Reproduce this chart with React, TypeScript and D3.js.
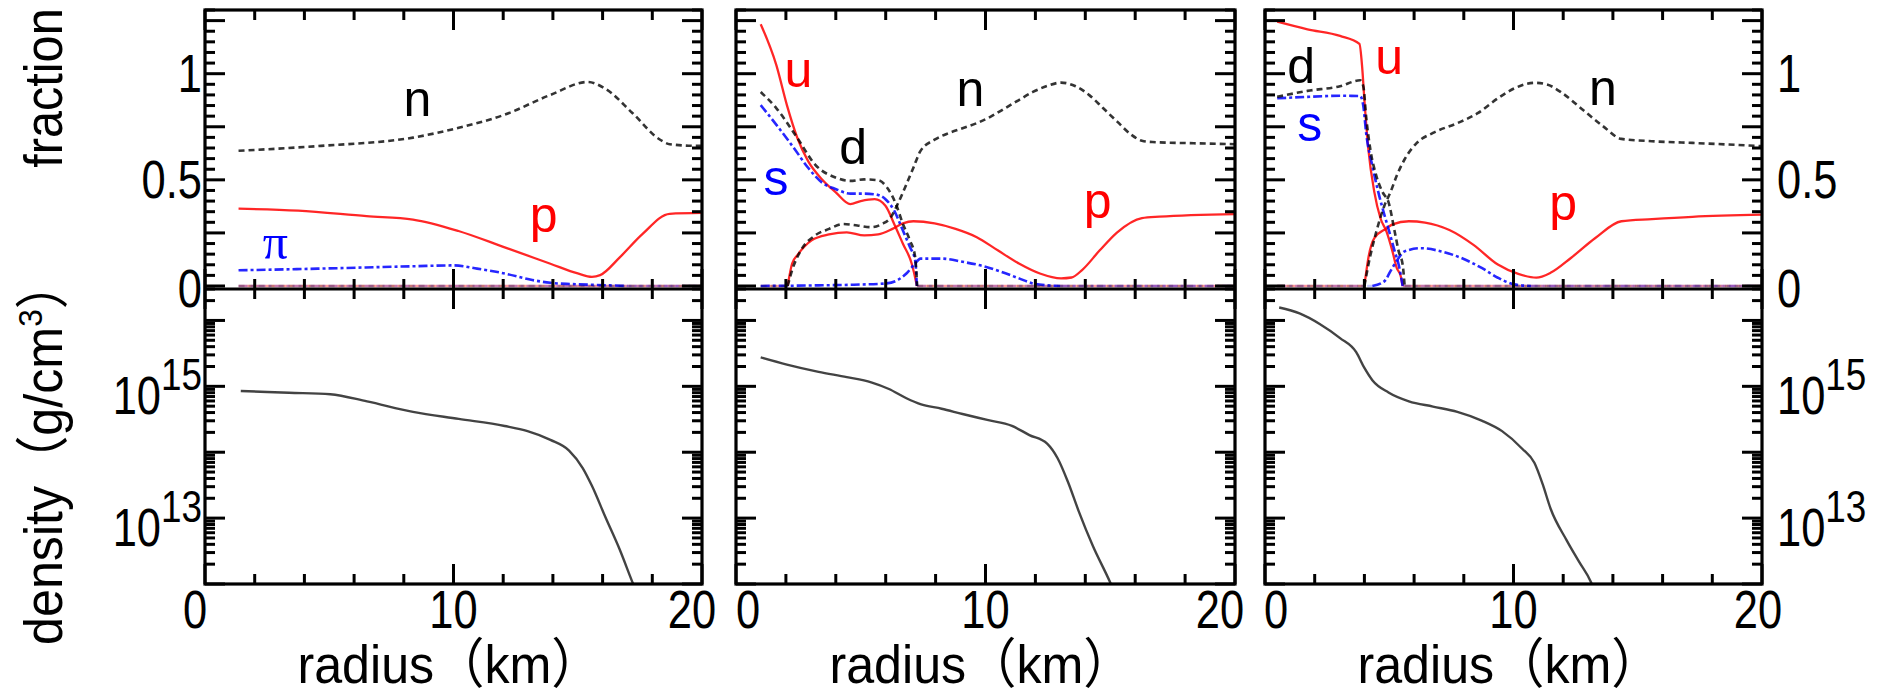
import React from "react";
import * as d3 from "d3";

type Pt = [number, number];

// ---------- axes ----------
const X_DOMAIN: [number, number] = [0, 20];
const FRAC_DOMAIN: [number, number] = [0, 1.3];
const DENS_DOMAIN: [number, number] = [1e12, 3e16];
const xMajorTicks = [0, 10, 20];
const xMinorTicks = [2, 4, 6, 8, 12, 14, 16, 18];
const xTickLabels = ["0", "10", "20"];
const fracLabelValues = [0, 0.5, 1];
const fracLabelTexts = ["0", "0.5", "1"];
const densLabelExponents = [15, 13];

// ---------- panel 1 ----------
const p1N: Pt[] = [[1.35,0.637],[4.67,0.66],[8.37,0.699],[10.21,0.745],[12.06,0.807],[13.9,0.9],[15.4,0.961],[16.1,0.93],[17.2,0.815],[18.3,0.69],[18.7,0.668],[19.8,0.66],[20,0.66]];
const p1P: Pt[] = [[1.35,0.364],[3.75,0.355],[6.5,0.329],[8.37,0.313],[10.2,0.259],[12.06,0.182],[13.9,0.105],[15.0,0.059],[15.57,0.043],[15.9,0.051],[16.7,0.136],[17.6,0.244],[18.7,0.34],[20,0.344]];
const p1Pi: Pt[] = [[1.35,0.074],[4.67,0.082],[8.37,0.093],[10.0,0.097],[10.95,0.082],[12.06,0.059],[13.17,0.028],[13.9,0.015],[14.8,0.009],[16.3,0.003],[17,0],[20,0]];
const p1U: Pt[] = [[1.35,0],[20,0]];
const p1D: Pt[] = [[1.35,0],[20,0]];
const p1S: Pt[] = [[1.35,0],[20,0]];
const p1Dens: Pt[] = [[1.44,8.5e14],[3.38,8.0e14],[5.04,7.6e14],[6.52,5.9e14],[8.37,4.1e14],[10.21,3.2e14],[12.06,2.5e14],[12.98,2.09e14],[13.9,1.54e14],[14.65,1.06e14],[15.2,5.75e13],[15.57,3.09e13],[16.12,1.02e13],[16.68,3.39e12],[17.23,1.0e12],[17.4,7e11]];
const p1Labels = [
  { t: "n", x: 8.55, y: 0.86, c: "black" },
  { t: "p", x: 13.63, y: 0.29, c: "red" },
  { t: "π", x: 2.83, y: 0.19, c: "blue" },
];

// ---------- panel 2 ----------
const p2U: Pt[] = [[0.99,1.233],[1.62,1.039],[2.04,0.852],[2.46,0.697],[2.89,0.588],[3.45,0.502],[4.01,0.44],[4.58,0.386],[5.0,0.4],[5.56,0.409],[5.99,0.378],[6.34,0.292],[6.69,0.199],[7.04,0.106],[7.23,0.012],[7.25,0],[20,0]];
const p2D: Pt[] = [[0.99,0.914],[1.62,0.837],[2.46,0.697],[3.17,0.572],[4.01,0.51],[4.58,0.495],[5.14,0.502],[5.7,0.498],[6.06,0.463],[6.41,0.386],[6.69,0.292],[6.97,0.215],[7.18,0.137],[7.26,0],[20,0]];
const p2S: Pt[] = [[0.99,0.852],[1.62,0.759],[2.32,0.65],[2.89,0.557],[3.45,0.487],[4.01,0.456],[4.58,0.435],[5.14,0.435],[5.56,0.432],[5.99,0.409],[6.34,0.355],[6.69,0.261],[6.97,0.184],[7.18,0.121],[7.25,0],[20,0]];
const p2N: Pt[] = [[0.99,0],[2.07,0],[2.25,0.075],[2.6,0.168],[3.17,0.238],[3.73,0.269],[4.3,0.292],[4.86,0.285],[5.42,0.277],[5.85,0.292],[6.2,0.323],[6.48,0.386],[6.83,0.479],[7.11,0.557],[7.39,0.635],[7.96,0.689],[8.52,0.72],[9.08,0.743],[9.65,0.767],[10.21,0.798],[10.78,0.837],[11.34,0.876],[11.9,0.914],[12.47,0.942],[13.03,0.958],[13.59,0.942],[14.16,0.899],[14.72,0.837],[15.28,0.774],[15.85,0.712],[16.27,0.684],[16.69,0.678],[18.1,0.673],[20,0.668]];
const p2P: Pt[] = [[0.99,0],[2.07,0],[2.25,0.106],[2.46,0.145],[3.03,0.215],[3.73,0.243],[4.44,0.253],[5.14,0.238],[5.7,0.243],[6.27,0.269],[6.69,0.295],[7.11,0.305],[7.96,0.295],[8.8,0.269],[9.65,0.23],[10.49,0.168],[11.34,0.106],[12.18,0.059],[13.03,0.036],[13.45,0.04],[13.87,0.075],[14.58,0.168],[15.28,0.253],[16.27,0.32],[16.97,0.327],[20,0.339]];
const p2Pi: Pt[] = [[0.99,0],[3.31,0.003],[4.72,0.006],[5.99,0.012],[6.48,0.028],[6.83,0.059],[7.18,0.106],[7.39,0.129],[8.24,0.129],[9.08,0.114],[9.93,0.093],[10.63,0.067],[11.34,0.036],[11.9,0.012],[12.47,0.003],[13,0],[20,0]];
const p2Dens: Pt[] = [[0.99,2.75e15],[2.04,2.14e15],[3.31,1.66e15],[4.44,1.38e15],[5.42,1.15e15],[6.13,9.1e14],[6.83,6.6e14],[7.39,5.37e14],[8.24,4.57e14],[9.08,3.8e14],[10.07,3.09e14],[11.06,2.51e14],[11.76,1.82e14],[12.47,1.35e14],[12.89,8.1e13],[13.31,3.5e13],[13.73,1.29e13],[14.3,3.8e12],[15.0,1.05e12],[15.2,7e11]];
const p2Labels = [
  { t: "u", x: 2.5, y: 1.0, c: "red" },
  { t: "d", x: 4.7, y: 0.66, c: "black" },
  { t: "s", x: 1.6, y: 0.49, c: "blue" },
  { t: "n", x: 9.4, y: 0.91, c: "black" },
  { t: "p", x: 14.5, y: 0.36, c: "red" },
];

// ---------- panel 3 ----------
const p3U: Pt[] = [[0.49,1.245],[1.71,1.209],[3.02,1.178],[3.8,1.14],[3.91,1.031],[4.0,0.876],[4.16,0.643],[4.4,0.442],[4.65,0.318],[4.89,0.256],[5.13,0.163],[5.3,0.085],[5.46,0.047],[5.54,0],[20,0]];
const p3D: Pt[] = [[0.49,0.891],[1.71,0.919],[3.02,0.941],[3.83,0.969],[3.96,0.938],[4.07,0.798],[4.24,0.643],[4.48,0.519],[4.73,0.442],[4.97,0.395],[5.22,0.256],[5.38,0.163],[5.54,0.1],[5.62,0],[20,0]];
const p3S: Pt[] = [[0.49,0.884],[1.71,0.891],[3.02,0.896],[3.83,0.895],[3.96,0.845],[4.07,0.721],[4.32,0.566],[4.56,0.442],[4.81,0.333],[5.0,0.256],[5.22,0.163],[5.38,0.1],[5.54,0],[20,0]];
const p3N: Pt[] = [[0.49,0],[4.0,0],[4.16,0.1],[4.48,0.256],[4.81,0.38],[5.05,0.442],[5.3,0.519],[5.62,0.597],[6.11,0.674],[6.76,0.721],[7.74,0.767],[8.56,0.814],[9.37,0.884],[10.02,0.93],[10.84,0.957],[11.33,0.95],[11.98,0.907],[12.8,0.829],[13.61,0.752],[14.34,0.693],[15.57,0.682],[17.2,0.674],[20,0.659]];
const p3P: Pt[] = [[0.49,0],[4.0,0],[4.16,0.132],[4.4,0.225],[4.89,0.271],[5.13,0.29],[5.79,0.305],[6.44,0.299],[7.42,0.264],[8.39,0.194],[9.37,0.101],[10.19,0.057],[10.92,0.039],[11.49,0.062],[12.31,0.132],[13.28,0.225],[14.34,0.305],[15.57,0.315],[17.2,0.326],[20,0.336]];
const p3Pi: Pt[] = [[0.49,0],[4.32,0],[4.81,0.023],[5.05,0.07],[5.33,0.124],[5.62,0.163],[6.28,0.178],[7.09,0.163],[7.9,0.132],[8.72,0.085],[9.37,0.039],[10.02,0.008],[10.7,0],[20,0]];
const p3Dens: Pt[] = [[0.57,1.57e16],[1.39,1.28e16],[2.2,8.85e15],[3.02,5.4e15],[3.67,3.3e15],[4.0,1.9e15],[4.32,1.24e15],[4.97,8.07e14],[5.79,5.93e14],[6.76,4.93e14],[7.74,4.1e14],[8.72,3.02e14],[9.54,2.09e14],[10.35,1.13e14],[10.84,6.9e13],[11.17,3.3e13],[11.49,1.4e13],[12.14,4.6e12],[12.63,2.2e12],[13.12,1.06e12],[13.3,7e11]];
const p3Labels = [
  { t: "d", x: 1.45, y: 1.04, c: "black" },
  { t: "u", x: 5.0, y: 1.06, c: "red" },
  { t: "s", x: 1.8, y: 0.745, c: "blue" },
  { t: "n", x: 13.6, y: 0.915, c: "black" },
  { t: "p", x: 12.0, y: 0.35, c: "red" },
];

// ---------- styling ----------
const COLORS: Record<string, string> = { red: "#ff0000", blue: "#0000ff", black: "#000000" };
const LINE_STYLE: Record<string, { width: number; dash?: string; opacity: number }> = {
  red: { width: 2.3, opacity: 0.85 },
  blue: { width: 2.6, dash: "9,3,3,3", opacity: 0.85 },
  black: { width: 2.6, dash: "6,4", opacity: 0.8 },
};
const FONT = "'Liberation Sans', Arial, Helvetica, 'Noto Sans CJK JP', sans-serif";
const GLYPH_CENTER: Record<string, number> = { n: 0.26, u: 0.26, s: 0.26, "π": 0.26, d: 0.36, p: 0.16 };
const TICK_FS = 53, TICK_SX = 0.82;
const TITLE_FS = 54, TITLE_SX = 0.93, FRACTION_SX = 0.9;
const LABEL_FS = 50;

const PANELS = [
  { x0: 205, x1: 702, series: [[p1U,"red"],[p1P,"red"],[p1S,"blue"],[p1Pi,"blue"],[p1D,"black"],[p1N,"black"]] as [Pt[], string][], dens: p1Dens, labels: p1Labels, xLabelShift: [-10, 0, -10] },
  { x0: 736, x1: 1235, series: [[p2U,"red"],[p2P,"red"],[p2S,"blue"],[p2Pi,"blue"],[p2D,"black"],[p2N,"black"]] as [Pt[], string][], dens: p2Dens, labels: p2Labels, xLabelShift: [12, 0, -15] },
  { x0: 1265, x1: 1762, series: [[p3U,"red"],[p3P,"red"],[p3S,"blue"],[p3Pi,"blue"],[p3D,"black"],[p3N,"black"]] as [Pt[], string][], dens: p3Dens, labels: p3Labels, xLabelShift: [11, 0, -4] },
];

const Y_TOP = 10, Y_MID = 289, Y_BOT = 584;
const MAJ = 20, MIN = 10;

function splitRuns(pts: Pt[]) {
  const strong: Pt[][] = [];
  const faint: Pt[][] = [];
  let cur: Pt[] | null = null;
  let curType = "";
  for (let i = 0; i < pts.length - 1; i++) {
    const a = pts[i], b = pts[i + 1];
    const t = a[1] === 0 && b[1] === 0 ? "F" : "S";
    if (t !== curType) {
      cur = [a];
      (t === "S" ? strong : faint).push(cur);
      curType = t;
    }
    cur!.push(b);
  }
  return { strong, faint };
}

function T(props: { x: number; y: number; sx?: number; rot?: number; anchor?: string; fs: number; fill?: string; family?: string; children: React.ReactNode }) {
  const { x, y, sx = 1, rot, anchor = "middle", fs, fill = "#000", family, children } = props;
  const tr = `translate(${x},${y})${rot ? ` rotate(${rot})` : ""} scale(${sx},1)`;
  return (
    <text transform={tr} textAnchor={anchor} fontSize={fs} fill={fill} fontFamily={family}>{children}</text>
  );
}

export default function App() {
  const fracY = d3.scaleLinear().domain(FRAC_DOMAIN).range([286, Y_TOP]);
  const densY = d3.scaleLog().domain(DENS_DOMAIN).range([Y_BOT, Y_MID]);

  const fracTicks = d3.range(0, 1.3001, 0.05).map((v) => ({ v, major: Math.abs(v / 0.25 - Math.round(v / 0.25)) < 1e-6 }));
  const densTicks: { v: number; major: boolean }[] = [];
  for (let e = 11; e <= 16; e++) for (let m = 1; m <= 9; m++) {
    const v = m * Math.pow(10, e);
    if (v >= DENS_DOMAIN[0] * 0.999 && v <= DENS_DOMAIN[1] * 1.001) densTicks.push({ v, major: m === 1 });
  }

  return (
    <svg width={1889} height={695} style={{ position: "absolute", left: 0, top: 0, background: "#fff" }} fontFamily={FONT}>
      <defs>
        {PANELS.map((p, i) => (
          <g key={i}>
            <clipPath id={`ct${i}`}><rect x={p.x0} y={Y_TOP} width={p.x1 - p.x0} height={Y_MID - Y_TOP} /></clipPath>
            <clipPath id={`cb${i}`}><rect x={p.x0} y={Y_MID} width={p.x1 - p.x0} height={Y_BOT - Y_MID} /></clipPath>
          </g>
        ))}
      </defs>
      {PANELS.map((p, pi) => {
        const xs = d3.scaleLinear().domain(X_DOMAIN).range([p.x0, p.x1]);
        const fracLine = d3.line<Pt>().x((d) => xs(d[0])).y((d) => fracY(d[1])).curve(d3.curveMonotoneX);
        const densLine = d3.line<Pt>().x((d) => xs(d[0])).y((d) => densY(d[1])).curve(d3.curveMonotoneX);
        const ticks: JSX.Element[] = [];
        const allX = [...xMajorTicks.map((v) => ({ v, major: true })), ...xMinorTicks.map((v) => ({ v, major: false }))];
        allX.forEach(({ v, major }, k) => {
          const x = xs(v);
          const L = major ? MAJ : MIN;
          ticks.push(<line key={`xt${k}`} x1={x} x2={x} y1={Y_TOP} y2={Y_TOP + L} />);
          ticks.push(<line key={`xm${k}`} x1={x} x2={x} y1={Y_MID - L} y2={Y_MID + L} />);
          ticks.push(<line key={`xb${k}`} x1={x} x2={x} y1={Y_BOT - L} y2={Y_BOT} />);
        });
        fracTicks.forEach(({ v, major }, k) => {
          const y = fracY(v);
          const L = major ? MAJ : MIN;
          ticks.push(<line key={`fl${k}`} x1={p.x0} x2={p.x0 + L} y1={y} y2={y} />);
          ticks.push(<line key={`fr${k}`} x1={p.x1 - L} x2={p.x1} y1={y} y2={y} />);
        });
        densTicks.forEach(({ v, major }, k) => {
          const y = densY(v);
          const L = major ? MAJ : MIN;
          ticks.push(<line key={`dl${k}`} x1={p.x0} x2={p.x0 + L} y1={y} y2={y} />);
          ticks.push(<line key={`dr${k}`} x1={p.x1 - L} x2={p.x1} y1={y} y2={y} />);
        });
        return (
          <g key={pi}>
            <g clipPath={`url(#ct${pi})`} fill="none">
              {p.series.map(([pts, c], si) => {
                const { strong, faint } = splitRuns(pts);
                const st = LINE_STYLE[c];
                return (
                  <g key={si}>
                    {faint.map((run, ri) => (
                      <path key={`f${ri}`} d={fracLine(run) || ""} stroke={COLORS[c]} strokeWidth={2.4} strokeOpacity={c === "red" ? 0.4 : 0.22} strokeDasharray={st.dash} />
                    ))}
                    {strong.map((run, ri) => (
                      <path key={`s${ri}`} d={fracLine(run) || ""} stroke={COLORS[c]} strokeWidth={st.width} strokeOpacity={st.opacity} strokeDasharray={st.dash} />
                    ))}
                  </g>
                );
              })}
            </g>
            <g clipPath={`url(#cb${pi})`} fill="none">
              <path d={densLine(p.dens) || ""} stroke="#222" strokeWidth={2.4} strokeOpacity={0.85} />
            </g>
            <g stroke="#000" strokeWidth={3}>{ticks}</g>
            <rect x={p.x0} y={Y_TOP} width={p.x1 - p.x0} height={Y_BOT - Y_TOP} fill="none" stroke="#000" strokeWidth={3.2} />
            <line x1={p.x0} x2={p.x1} y1={Y_MID} y2={Y_MID} stroke="#000" strokeWidth={3.2} />
            {p.labels.map((l, li) => (
              <T key={li} x={xs(l.x)} y={fracY(l.y) + GLYPH_CENTER[l.t] * LABEL_FS} fs={LABEL_FS} fill={COLORS[l.c]}
                family={l.t === "π" ? "'Liberation Serif', 'DejaVu Serif', serif" : undefined}>{l.t}</T>
            ))}
            {xMajorTicks.map((v, k) => (
              <T key={`xl${k}`} x={xs(v) + p.xLabelShift[k]} y={628} fs={TICK_FS} sx={TICK_SX}>{xTickLabels[k]}</T>
            ))}
            <T x={(p.x0 + p.x1) / 2 - 4} y={683} fs={TITLE_FS} sx={TITLE_SX}>radius（km）</T>
            {pi === 0 && fracLabelValues.map((v, k) => (
              <T key={`yl${k}`} x={p.x0 - 3} y={(v === 0 ? Y_MID : fracY(v)) + 18} anchor="end" fs={TICK_FS} sx={TICK_SX}>{fracLabelTexts[k]}</T>
            ))}
            {pi === 2 && fracLabelValues.map((v, k) => (
              <T key={`yr${k}`} x={p.x1 + 15} y={(v === 0 ? Y_MID : fracY(v)) + 18} anchor="start" fs={TICK_FS} sx={TICK_SX}>{fracLabelTexts[k]}</T>
            ))}
            {(pi === 0 || pi === 2) && densLabelExponents.map((e, k) => (
              <T key={`dl${k}`} x={pi === 0 ? p.x0 - 3 : p.x1 + 15} y={densY(Math.pow(10, e)) + 28} anchor={pi === 0 ? "end" : "start"} fs={TICK_FS} sx={TICK_SX}>
                10<tspan fontSize={45} dy={-24}>{e}</tspan>
              </T>
            ))}
          </g>
        );
      })}
      <T x={62} y={88} rot={-90} fs={TITLE_FS} sx={FRACTION_SX}>fraction</T>
      <T x={62} y={452} rot={-90} fs={TITLE_FS} sx={TITLE_SX}>
        density（g/cm<tspan fontSize={34} dy={-20}>3</tspan><tspan dy={20}>）</tspan>
      </T>
    </svg>
  );
}
